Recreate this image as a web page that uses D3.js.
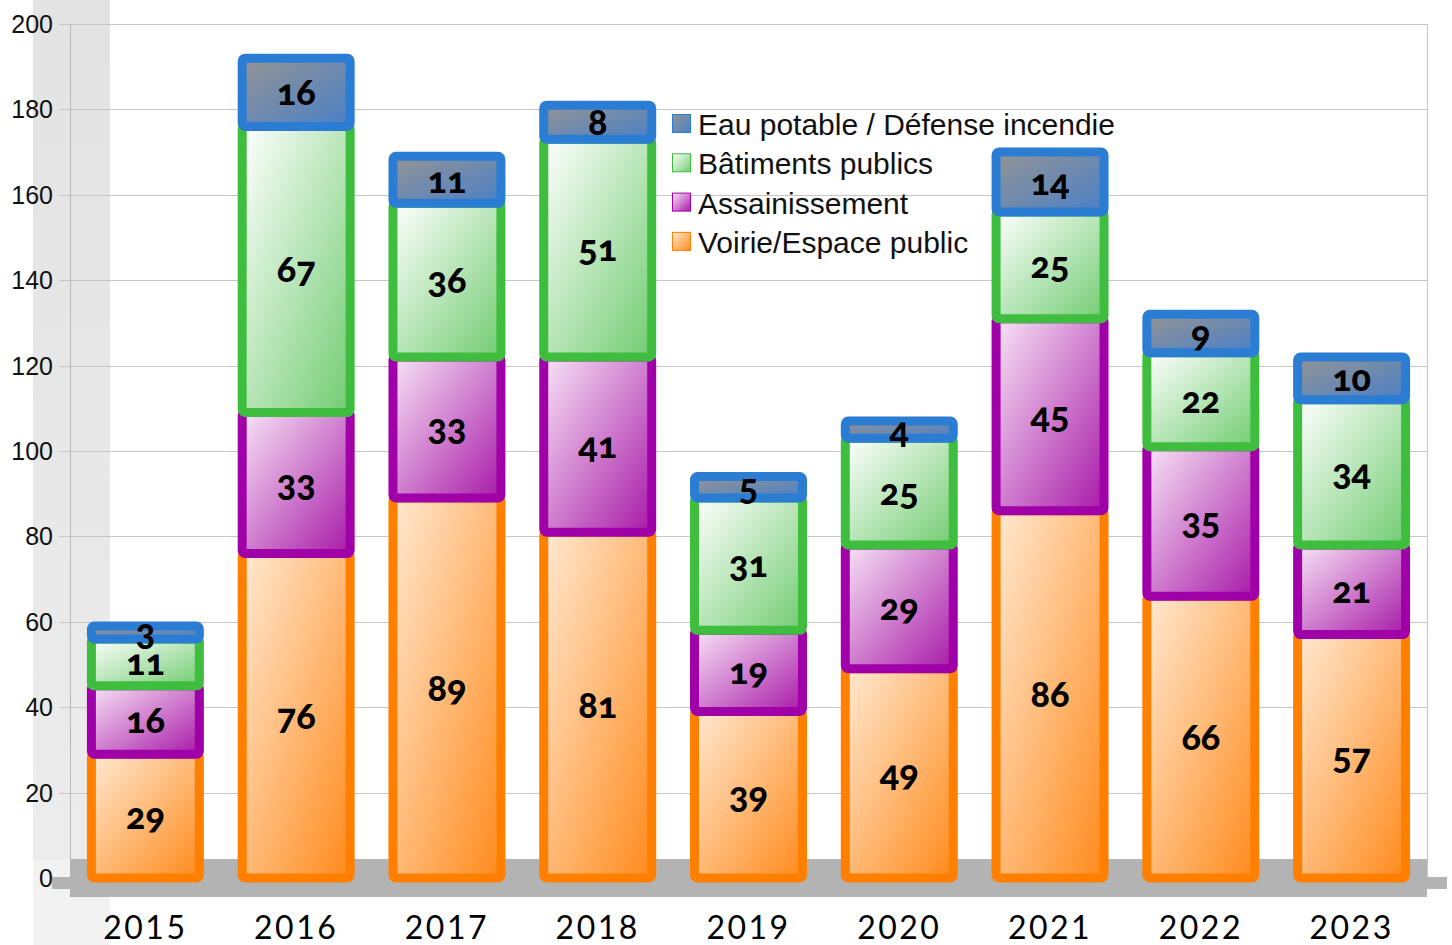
<!DOCTYPE html>
<html>
<head>
<meta charset="utf-8">
<script src="https://cdn.jsdelivr.net/npm/d3@7"></script>
<style>
  body { margin: 0; background: #fff; }
  svg { display: block; }
</style>
</head>
<body>
<svg id="chart" width="1452" height="945"></svg>
<script>
// data
var years = ["2015", "2016", "2017", "2018", "2019", "2020", "2021", "2022", "2023"];
var voirie = [29, 76, 89, 81, 39, 49, 86, 66, 57];
var assainissement = [16, 33, 33, 41, 19, 29, 45, 35, 21];
var batiments = [11, 67, 36, 51, 31, 25, 25, 22, 34];
var eau = [3, 16, 11, 8, 5, 4, 14, 9, 10];
var seriesNames = ["Voirie/Espace public", "Assainissement", "Bâtiments publics", "Eau potable / Défense incendie"];
var yTicks = [0, 20, 40, 60, 80, 100, 120, 140, 160, 180, 200];

var svg = d3.select("#chart");
var xpadL = 70, xpadR = 1427, ytop = 24, ybot = 878;

var styles = [
    {stroke: "#ff8000", c0: "#ffe9d2", c1: "#ff8a1c"},
    {stroke: "#a000a8", c0: "#f8e4f6", c1: "#a81aa8"},
    {stroke: "#3fbd3f", c0: "#ffffff", c1: "#72cc72"},
    {stroke: "#2a7dd2", c0: "#949494", c1: "#4a80c8"}
];

var defs = svg.append("defs");
styles.forEach(function (s, i) {
    var g = defs.append("linearGradient").attr("id", "grad" + i)
        .attr("x1", "0").attr("y1", "0").attr("x2", "1").attr("y2", "1");
    g.append("stop").attr("offset", "0%").attr("stop-color", s.c0);
    g.append("stop").attr("offset", "100%").attr("stop-color", s.c1);
});
var wallGrad = defs.append("linearGradient").attr("id", "wall")
    .attr("x1", "0").attr("y1", "0").attr("x2", "0").attr("y2", "1");
wallGrad.append("stop").attr("offset", "0%").attr("stop-color", "#e3e3e3");
wallGrad.append("stop").attr("offset", "100%").attr("stop-color", "#ececec");

//scales
var x = d3.scaleBand()
    .domain(years)
    .range([xpadL, xpadR])
    .paddingInner(0.284)
    .paddingOuter(0.142);

var y = d3.scaleLinear()
    .domain([0, 200])
    .range([ybot, ytop]);

// left wall
svg.append("rect").attr("x", 33).attr("y", 0).attr("width", 77).attr("height", 860)
    .attr("fill", "url(#wall)");
svg.append("rect").attr("x", 33).attr("y", 860).attr("width", 77).attr("height", 85)
    .attr("fill", "#f2f2f2");

// grid
svg.append("g").selectAll("line")
    .data(yTicks.filter(d => d > 0))
    .enter().append("line")
    .attr("x1", 59).attr("x2", xpadR)
    .attr("y1", d => Math.round(y(d)) + 0.5)
    .attr("y2", d => Math.round(y(d)) + 0.5)
    .attr("stroke", "#c6c6c6").attr("stroke-width", 1);

svg.append("line").attr("x1", xpadL + 0.5).attr("x2", xpadL + 0.5)
    .attr("y1", y(200)).attr("y2", 860).attr("stroke", "#b8b8b8");
svg.append("line").attr("x1", xpadR + 0.5).attr("x2", xpadR + 0.5)
    .attr("y1", y(200)).attr("y2", y(0)).attr("stroke", "#c6c6c6");

// floor
svg.append("rect").attr("x", xpadL).attr("y", 859).attr("width", xpadR - xpadL).attr("height", 38)
    .attr("fill", "#b3b3b3");
svg.append("rect").attr("x", 52).attr("y", 877).attr("width", 1447 - 52).attr("height", 12)
    .attr("fill", "#b3b3b3");

// y labels
svg.append("g").selectAll("text")
    .data(yTicks)
    .enter().append("text")
    .attr("x", 53)
    .attr("y", d => y(d))
    .attr("dy", "0.36em")
    .attr("text-anchor", "end")
    .style("font-family", "'Liberation Sans', Arial, sans-serif")
    .style("font-size", "25px")
    .attr("fill", "#111")
    .text(d => d);

// stack
var rows = years.map(function (yr, i) {
    return {year: yr, s0: voirie[i], s1: assainissement[i], s2: batiments[i], s3: eau[i]};
});
var stack = d3.stack().keys(["s0", "s1", "s2", "s3"])(rows);

var sw = 9;
var layers = svg.append("g").selectAll("g")
    .data(stack)
    .enter().append("g");

layers.each(function (layer, li) {
    var g = d3.select(this);
    g.selectAll("rect")
        .data(layer)
        .enter().append("rect")
        .attr("x", d => x(d.data.year))
        .attr("y", d => y(d[1]))
        .attr("width", x.bandwidth())
        .attr("height", d => y(d[0]) - y(d[1]))
        .attr("rx", 3)
        .attr("fill", "url(#grad" + li + ")")
        .attr("stroke", styles[li].stroke)
        .attr("stroke-width", sw)
        .attr("stroke-linejoin", "round");
});

// segment labels
layers.each(function (layer) {
    d3.select(this).selectAll("text")
        .data(layer)
        .enter().append("text")
        .attr("x", d => x(d.data.year) + x.bandwidth() / 2)
        .attr("y", d => y((d[0] + d[1]) / 2))
        .attr("dy", "0.36em")
        .attr("text-anchor", "middle")
        .style("font-family", "Lato, 'Noto Sans', sans-serif")
        .style("font-weight", "900")
        .style("font-size", "36px")
        .style("font-variant-numeric", "oldstyle-nums")
        .attr("fill", "#000")
        .text(d => d[1] - d[0]);
});

// x labels
svg.append("g").selectAll("text")
    .data(years)
    .enter().append("text")
    .attr("x", d => x(d) + x.bandwidth() / 2)
    .attr("y", 939)
    .attr("text-anchor", "middle")
    .style("font-family", "Lato, 'Noto Sans', sans-serif")
    .style("font-size", "32px")
    .style("letter-spacing", "2.5px")
    .attr("fill", "#000")
    .text(d => d);

// legend
var legendOrder = [3, 2, 1, 0];
var legend = svg.append("g").selectAll("g")
    .data(legendOrder)
    .enter().append("g")
    .attr("transform", (d, i) => "translate(672," + (114 + i * 39.3) + ")");

legend.append("rect")
    .attr("x", 0.5).attr("y", 0.5)
    .attr("width", 18).attr("height", 18)
    .attr("fill", d => "url(#grad" + d + ")")
    .attr("stroke", d => styles[d].stroke)
    .attr("stroke-width", 1);

legend.append("text")
    .attr("x", 26)
    .attr("y", 21)
    .style("font-family", "'Liberation Sans', Arial, sans-serif")
    .style("font-size", "30px")
    .attr("fill", "#111")
    .text(d => seriesNames[d]);
</script>
</body>
</html>
